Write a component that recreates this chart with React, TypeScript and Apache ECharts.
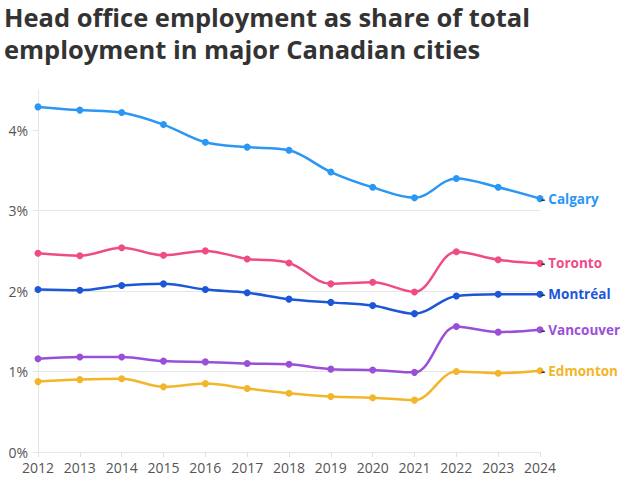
import React, { useEffect, useRef } from "react";
import * as echarts from "echarts";

const years = ["2012", "2013", "2014", "2015", "2016", "2017", "2018", "2019", "2020", "2021", "2022", "2023", "2024"];

const calgary = [4.29, 4.25, 4.22, 4.07, 3.85, 3.79, 3.75, 3.48, 3.29, 3.16, 3.4, 3.29, 3.15];
const toronto = [2.47, 2.44, 2.54, 2.445, 2.5, 2.4, 2.35, 2.09, 2.11, 1.99, 2.49, 2.39, 2.345];
const montreal = [2.02, 2.01, 2.07, 2.09, 2.02, 1.98, 1.9, 1.86, 1.82, 1.72, 1.94, 1.96, 1.96];
const vancouver = [1.16, 1.18, 1.18, 1.13, 1.12, 1.1, 1.09, 1.03, 1.02, 0.99, 1.56, 1.49, 1.52];
const edmonton = [0.875, 0.9, 0.91, 0.81, 0.85, 0.79, 0.73, 0.69, 0.675, 0.645, 1.0, 0.98, 1.01];

const yTicks = [0, 1, 2, 3, 4];

const titleLines = [
  "Head office employment as share of total",
  "employment in major Canadian cities",
];

const cities = [
  { name: "Calgary", data: calgary, color: "#2b97f4" },
  { name: "Toronto", data: toronto, color: "#ef4b87" },
  { name: "Montréal", data: montreal, color: "#1c57d8" },
  { name: "Vancouver", data: vancouver, color: "#9a4fd8" },
  { name: "Edmonton", data: edmonton, color: "#f3b52a" },
];

const FONT = "'Open Sans', 'Noto Sans', sans-serif";

export default function App() {
  const ref = useRef<HTMLDivElement>(null);

  useEffect(() => {
    document.body.style.margin = "0";
    if (!ref.current) return;
    const chart = echarts.init(ref.current, null, { renderer: "svg" });
    chart.setOption({
      animation: false,
      backgroundColor: "#ffffff",
      textStyle: { fontFamily: FONT },
      title: titleLines.map((t, i) => ({
        text: t,
        left: 4,
        top: 2 + i * 32,
        padding: 0,
        textStyle: {
          fontFamily: FONT,
          fontWeight: 700,
          fontSize: 25.5,
          lineHeight: 30,
          color: "#333333",
        },
      })),
      grid: { left: 38, right: 88, top: 90, bottom: 28, containLabel: false },
      xAxis: {
        type: "category",
        data: years,
        boundaryGap: false,
        axisLine: { show: true, lineStyle: { color: "#e6e6e6", width: 1 } },
        axisTick: { show: true, length: 5, alignWithLabel: true, interval: 0, lineStyle: { color: "#e0e0e0" } },
        axisLabel: { color: "#555555", fontSize: 14, margin: 8, interval: 0, fontFamily: FONT },
        splitLine: { show: false },
      },
      yAxis: {
        type: "value",
        min: 0,
        max: 4.5,
        interval: 1,
        axisLine: { show: true, lineStyle: { color: "#e6e6e6", width: 1 } },
        axisTick: { show: true, length: 5, customValues: yTicks, lineStyle: { color: "#e6e6e6" } },
        axisLabel: {
          color: "#555555",
          fontSize: 14,
          margin: 10,
          fontFamily: FONT,
          customValues: yTicks,
          formatter: (v: number) => `${v}%`,
        },
        splitLine: { show: true, showMaxLine: false, lineStyle: { color: "#e6e6e6", width: 1 } },
      },
      series: cities.map((c) => ({
        name: c.name,
        type: "line",
        data: c.data,
        smooth: 0.35,
        symbol: "circle",
        symbolSize: 7,
        showSymbol: true,
        lineStyle: { color: c.color, width: 2.5 },
        itemStyle: { color: c.color },
        emphasis: { disabled: true },
        endLabel: {
          show: true,
          distance: 1,
          formatter: `{d|-} {n|${c.name}}`,
          rich: {
            d: { color: "#333333", fontSize: 13, fontWeight: 700, fontFamily: FONT },
            n: { color: c.color, fontSize: 13.5, fontWeight: 700, fontFamily: FONT },
          },
        },
      })),
    });
    return () => chart.dispose();
  }, []);

  return <div ref={ref} style={{ width: 628, height: 480 }} />;
}
